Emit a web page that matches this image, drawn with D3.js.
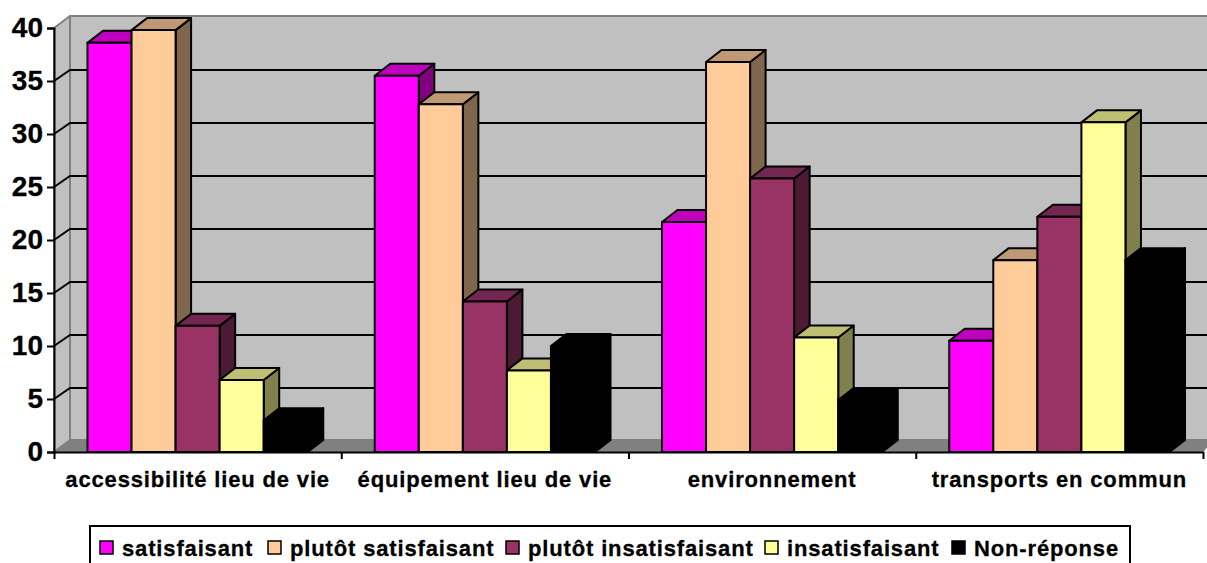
<!DOCTYPE html>
<html>
<head>
<meta charset="utf-8">
<script src="https://cdn.jsdelivr.net/npm/d3@7/dist/d3.min.js"></script>
<style>
  html, body { margin: 0; padding: 0; background: #fff; overflow: hidden; }
  text { font-family: "Liberation Sans", Arial, sans-serif; font-weight: bold; fill: #000; stroke: #000; stroke-width: 0.3px; }
  .axis path, .axis line { stroke: #000; stroke-width: 2; }
</style>
</head>
<body>
<svg id="chart" style="display:block"></svg>
<script>
const categories = ['accessibilité lieu de vie', 'équipement lieu de vie', 'environnement', 'transports en commun'];
const seriesNames = ['satisfaisant', 'plutôt satisfaisant', 'plutôt insatisfaisant', 'insatisfaisant', 'Non-réponse'];
const satisfaisant = [38.6, 35.5, 21.7, 10.5];
const plutotSatisfaisant = [39.8, 32.8, 36.8, 18.1];
const plutotInsatisfaisant = [11.9, 14.2, 25.8, 22.2];
const insatisfaisant = [6.8, 7.7, 10.8, 31.1];
const nonReponse = [3, 10, 4.9, 18.1];
const seriesValues = [satisfaisant, plutotSatisfaisant, plutotInsatisfaisant, insatisfaisant, nonReponse];
const yTicks = [0, 5, 10, 15, 20, 25, 30, 35, 40];

// front, top, side
const colors = [
  ['#ff00ff', '#bf00bf', '#800080'],
  ['#ffcc99', '#bf9973', '#80664d'],
  ['#993366', '#732650', '#4d1a33'],
  ['#ffff99', '#bfbf73', '#80804d'],
  ['#000000', '#000000', '#000000']
];

let width = 1207, height = 563;
let svg = d3.select('#chart').attr('width', width).attr('height', height);

let plotLeft = 54, plotRight = 1203, plotBottom = 452, plotTop = 28;
let wallDx = 16, wallDy = 12;
let barDx = 15.5, barDy = 12;

let x = d3.scaleBand().domain(categories).range([plotLeft, plotRight]);
let x1 = d3.scaleBand().domain(d3.range(5)).range([0, x.bandwidth()]).paddingOuter(0.76).paddingInner(0);
let y = d3.scaleLinear().domain([0, 40]).range([plotBottom, plotTop]);

function poly(pts, fill, stroke, sw) {
  svg.append('polygon')
    .attr('points', pts.map(p => p.join(',')).join(' '))
    .attr('fill', fill)
    .attr('stroke', stroke || 'none')
    .attr('stroke-width', sw || 0)
    .attr('stroke-linejoin', 'round');
}

// back wall, side wall, floor
poly([[plotLeft + wallDx, plotTop - wallDy], [width + 5, plotTop - wallDy], [width + 5, plotBottom - wallDy], [plotLeft + wallDx, plotBottom - wallDy]], '#c0c0c0', '#808080', 2);
poly([[plotLeft, plotTop], [plotLeft + wallDx, plotTop - wallDy], [plotLeft + wallDx, plotBottom - wallDy], [plotLeft, plotBottom]], '#c0c0c0', '#808080', 2);
poly([[plotLeft, plotBottom], [plotLeft + wallDx, plotBottom - wallDy], [width + 5, plotBottom - wallDy], [plotRight, plotBottom]], '#808080', '#808080', 1);

// gridlines
svg.append('g').selectAll('path')
  .data(yTicks.slice(1, -1))
  .enter()
  .append('path')
  .attr('d', d => `M${plotLeft},${y(d)}L${plotLeft + wallDx},${y(d) - wallDy + 1}L${width},${y(d) - wallDy + 1}`)
  .attr('fill', 'none')
  .attr('stroke', '#000')
  .attr('stroke-width', 2);

// bars, left to right so later fronts cover earlier sides
categories.forEach(function (cat, c) {
  seriesValues.forEach(function (values, s) {
    let x0 = x(cat) + x1(s), x2 = x0 + x1.bandwidth(), yt = y(values[c]);
    poly([[x2, yt], [x2 + barDx, yt - barDy], [x2 + barDx, plotBottom - barDy], [x2, plotBottom]], colors[s][2], '#000', 2);
    poly([[x0, yt], [x0 + barDx, yt - barDy], [x2 + barDx, yt - barDy], [x2, yt]], colors[s][1], '#000', 2);
    poly([[x0, yt], [x2, yt], [x2, plotBottom], [x0, plotBottom]], colors[s][0], '#000', 2);
  });
});

// axes
let yAxis = svg.append('g').attr('class', 'axis')
  .attr('transform', `translate(${plotLeft},0)`)
  .call(d3.axisLeft(y).tickValues(yTicks).tickSizeOuter(0).tickSize(7).tickPadding(4));
yAxis.selectAll('text').style('font-size', '28px').attr('dy', '0.3em');

let xMarks = d3.scaleLinear().domain([0, 4]).range([plotLeft, plotRight]);
svg.append('g').attr('class', 'axis')
  .attr('transform', `translate(0,${plotBottom})`)
  .call(d3.axisBottom(xMarks).ticks(4).tickSize(7).tickSizeOuter(0).tickFormat(''));

let xAxis = svg.append('g').attr('class', 'axis')
  .attr('transform', `translate(0,${plotBottom})`)
  .call(d3.axisBottom(x).tickSize(0).tickPadding(19));
xAxis.select('.domain').remove();
xAxis.selectAll('text').style('font-size', '22px').style('letter-spacing', '0.85px');

// legend
svg.append('rect')
  .attr('x', 90).attr('y', 526).attr('width', 1040).attr('height', 45)
  .attr('fill', '#fff').attr('stroke', '#000').attr('stroke-width', 2);

let legendX = [100, 268, 506, 765, 952];
seriesNames.forEach(function (name, s) {
  svg.append('rect')
    .attr('x', legendX[s]).attr('y', 541).attr('width', 13).attr('height', 13)
    .attr('fill', colors[s][0]).attr('stroke', '#000').attr('stroke-width', 1.5);
  svg.append('text')
    .attr('x', legendX[s] + 22).attr('y', 556)
    .style('font-size', '22px').style('letter-spacing', '0.85px')
    .text(name);
});
</script>
</body>
</html>
